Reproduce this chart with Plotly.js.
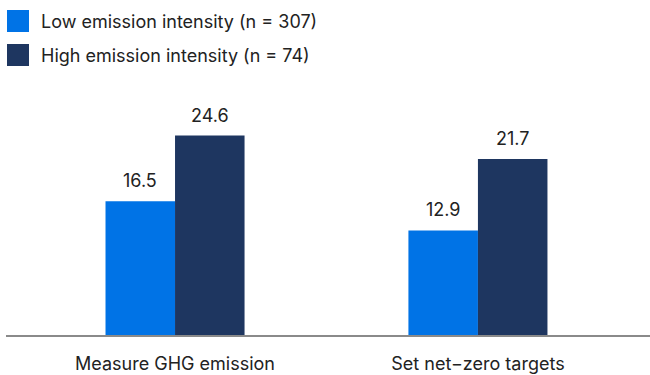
<!DOCTYPE html>
<html>
<head>
<meta charset="utf-8">
<script src="https://cdn.plot.ly/plotly-3.0.1.min.js"></script>
<style>html,body{margin:0;padding:0;background:#fff;}#chart{width:650px;height:375px;}</style>
</head>
<body>
<div id="chart"></div>
<script>
const categories = ["Measure GHG emission", "Set net\u2212zero targets"];
const seriesNames = ["Low emission intensity (n = 307)", "High emission intensity (n = 74)"];
const lowValues = [16.5, 12.9];
const highValues = [24.6, 21.7];
const colors = ["#0073e6", "#1e3660"];

const FONT = "Inter, Liberation Sans, Arial, sans-serif";
const TXT = "#222222";
const FS = 18;

const series = [lowValues, highValues];
const traces = series.map((vals, i) => ({
  type: "bar",
  x: categories,
  y: vals,
  name: seriesNames[i],
  marker: {color: colors[i]},
  hoverinfo: "skip",
  showlegend: false
}));

const shapes = [];
const annotations = [];
// value labels above bars
series.forEach((vals, i) => {
  vals.forEach((v, j) => {
    annotations.push({xref: "x", yref: "y", x: categories[j], y: v,
      xshift: (i === 0 ? -1 : 1) * 34.75, yshift: 8,
      xanchor: "center", yanchor: "bottom", showarrow: false,
      text: v.toFixed(1), font: {family: FONT, size: FS, color: TXT}});
  });
});
// legend
seriesNames.forEach((n, i) => {
  const yc = 21 + i * 34;
  shapes.push({type: "rect", xref: "paper", yref: "paper",
    x0: 1/644, x1: 23/644, y0: 1 + (91 - (yc - 11)) / 244, y1: 1 + (91 - (yc + 11)) / 244,
    fillcolor: colors[i], line: {width: 0}});
  annotations.push({xref: "paper", yref: "paper", x: 33/644, y: 1 + (91 - yc) / 244,
    xanchor: "left", yanchor: "middle", showarrow: false, text: n,
    font: {family: FONT, size: FS, color: TXT}});
});

const layout = {
  width: 650, height: 375,
  margin: {l: 6, r: 0, t: 91, b: 40},
  paper_bgcolor: "#fff", plot_bgcolor: "#fff",
  barmode: "group",
  bargap: 0.541, bargroupgap: 0,
  font: {family: FONT, size: FS, color: TXT},
  xaxis: {range: [-0.558, 1.568], showline: true, linecolor: "#8a8a8a", linewidth: 1.5,
    ticks: "", showgrid: false, zeroline: false, tickfont: {family: FONT, size: FS, color: TXT},
    ticklabelstandoff: 12},
  yaxis: {range: [0, 30.09], visible: false, showgrid: false, zeroline: false},
  shapes: shapes,
  annotations: annotations,
  showlegend: false
};

Plotly.newPlot("chart", traces, layout, {displayModeBar: false, staticPlot: true});
</script>
</body>
</html>
